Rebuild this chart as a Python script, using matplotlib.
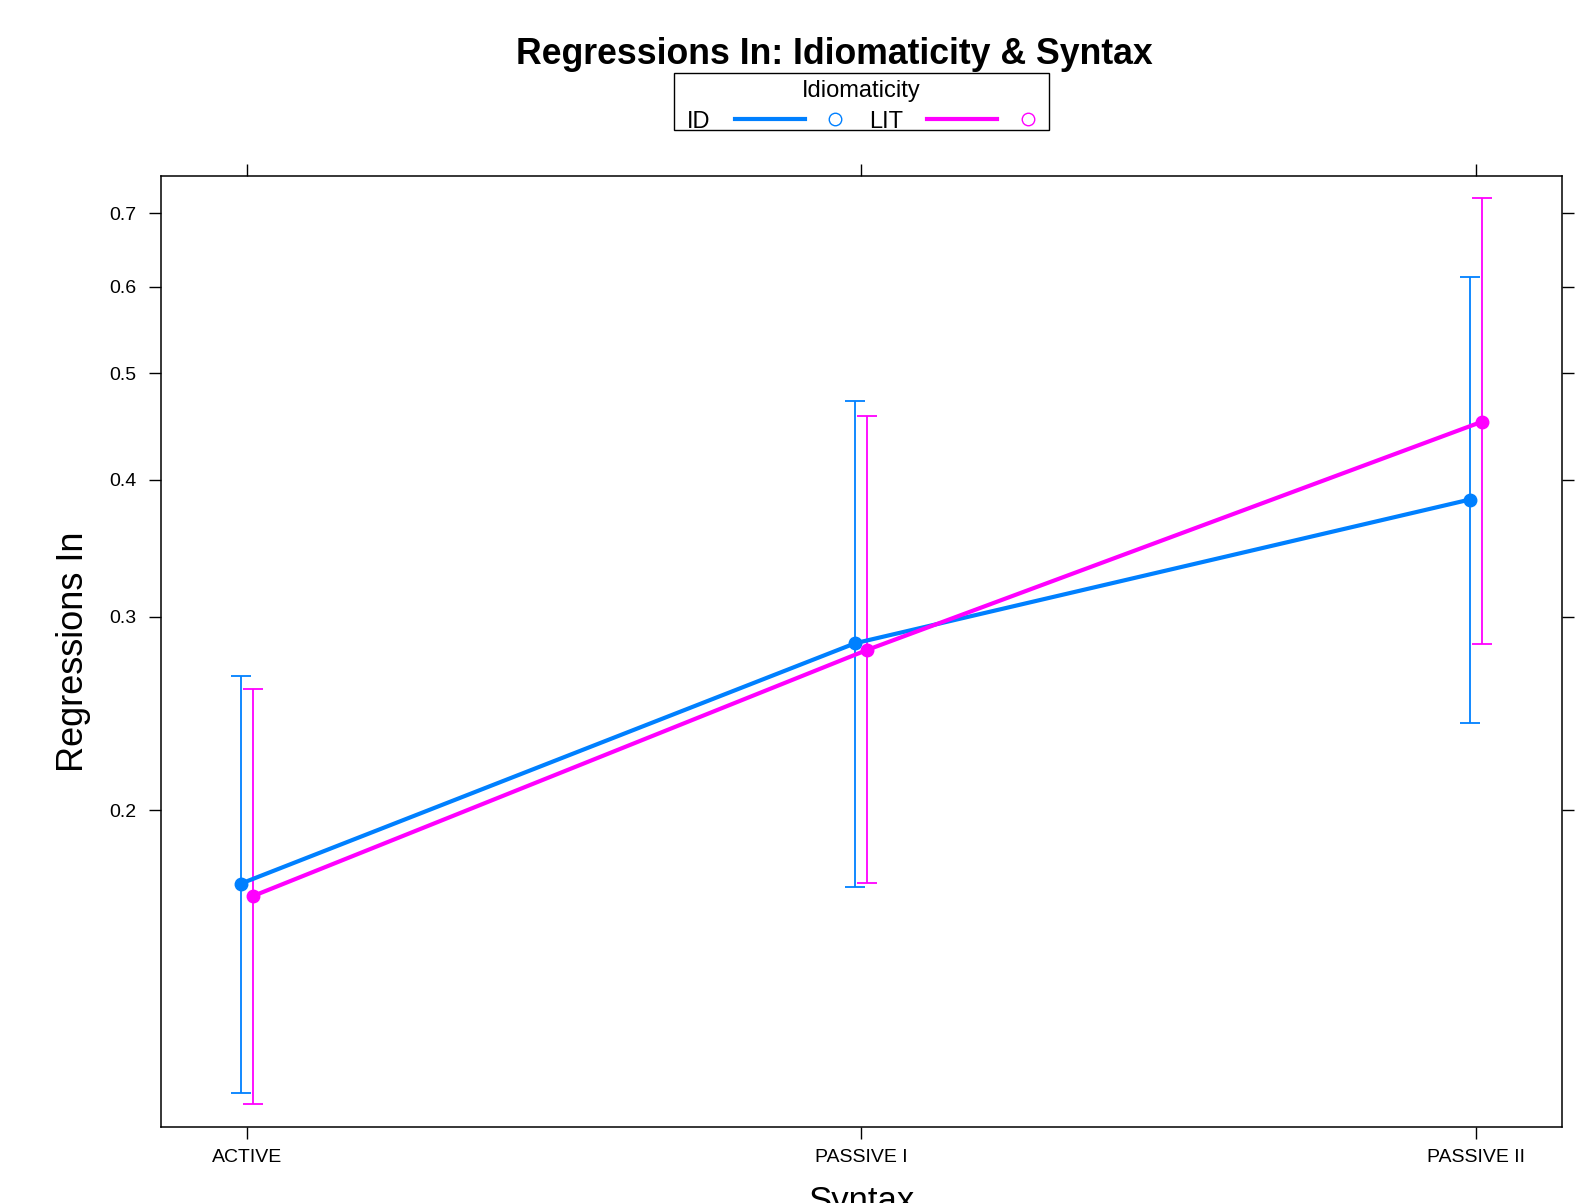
import matplotlib
matplotlib.use("Agg")
import matplotlib.pyplot as plt
from matplotlib.lines import Line2D
from matplotlib.patches import Rectangle
import numpy as np

plt.rcParams['font.family'] = ['Liberation Sans', 'DejaVu Sans']

# ---- data ----
categories = ["ACTIVE", "PASSIVE I", "PASSIVE II"]
groups = ["ID", "LIT"]
fit_ID = [0.1714, 0.2839, 0.3838]
lower_ID = [0.1105, 0.1704, 0.2402]
upper_ID = [0.2652, 0.4719, 0.6125]
fit_LIT = [0.1670, 0.2800, 0.4519]
lower_LIT = [0.1080, 0.1716, 0.2835]
upper_LIT = [0.2580, 0.4577, 0.7223]
yticks = [0.2, 0.3, 0.4, 0.5, 0.6, 0.7]
ytick_labels = ["0.2", "0.3", "0.4", "0.5", "0.6", "0.7"]

colors = {"ID": "#0080ff", "LIT": "#ff00ff"}
offsets = {"ID": -0.0099, "LIT": 0.0099}
series = {
    "ID": (fit_ID, lower_ID, upper_ID),
    "LIT": (fit_LIT, lower_LIT, upper_LIT),
}

W, H = 1584, 1203
fig = plt.figure(figsize=(W / 100, H / 100), dpi=100)
L, R, T, B = 160.6, 1561.8, 175.8, 1127.4
ax = fig.add_axes([L / W, 1 - B / H, (R - L) / W, (B - T) / H])

x = np.arange(1, len(categories) + 1)
for g in groups:
    fit, lo, hi = series[g]
    xs = x + offsets[g]
    fit = np.array(fit); lo = np.array(lo); hi = np.array(hi)
    ax.errorbar(xs, fit, yerr=[fit - lo, hi - fit], fmt='none',
                ecolor=colors[g], elinewidth=1.3, capsize=7, capthick=1.3, zorder=2)
    ax.plot(xs, fit, color=colors[g], lw=3, marker='o', ms=9, zorder=3,
            solid_capstyle='round')

ax.set_yscale('log')
ax.set_ylim(0.1028, 0.757)
ax.set_xlim(0.86, 3.1397)
ax.set_yticks(yticks)
ax.set_yticklabels(ytick_labels)
ax.yaxis.set_minor_locator(matplotlib.ticker.NullLocator())
ax.set_xticks(x)
ax.set_xticklabels(categories)
ax.tick_params(axis='both', direction='out', length=8.6, width=1.0,
               labelsize=14, top=True, right=True, labeltop=False, labelright=False)
ax.tick_params(axis='y', pad=9)
ax.tick_params(axis='x', pad=7)
for s in ax.spines.values():
    s.set_linewidth(1.1)

ax.set_ylabel("Regressions In", fontsize=26)
ax.yaxis.set_label_coords(-0.0497, 0.5)
ax.set_xlabel("Syntax", fontsize=25, va='top')
ax.xaxis.set_label_coords(0.5, -0.0605)

def fx(p):
    return p / W

def fy(p):
    return 1 - p / H

fig.text(fx(834), fy(63.6), "Regressions In: Idiomaticity & Syntax",
         fontsize=25.7, fontweight='bold', ha='center', va='baseline')

# legend (key)
fig.patches.append(Rectangle((fx(673.8), fy(130.3)), fx(1048.6) - fx(673.8),
                             fy(72.7) - fy(130.3), transform=fig.transFigure,
                             fill=False, lw=1.0, ec='black'))
fig.text(fx(861.7), fy(91), "Idiomaticity", fontsize=17, ha='center', va='center')
row_y = 119.2
fig.text(fx(687), fy(128.5), "ID", fontsize=17, ha='left', va='baseline')
fig.text(fx(868.8), fy(128.5), "LIT", fontsize=17, ha='left', va='baseline')
for g, (x0, x1, xc) in zip(groups, [(735.4, 805.1, 835.4), (927.4, 997.1, 1028.4)]):
    fig.lines.append(Line2D([fx(x0), fx(x1)], [fy(row_y), fy(row_y)],
                            transform=fig.transFigure, color=colors[g], lw=3))
    fig.lines.append(Line2D([fx(xc)], [fy(row_y)], transform=fig.transFigure,
                            marker='o', ms=9, mfc='none', mec=colors[g], mew=1.0, ls='none'))

fig.savefig("out.png", dpi=100)
